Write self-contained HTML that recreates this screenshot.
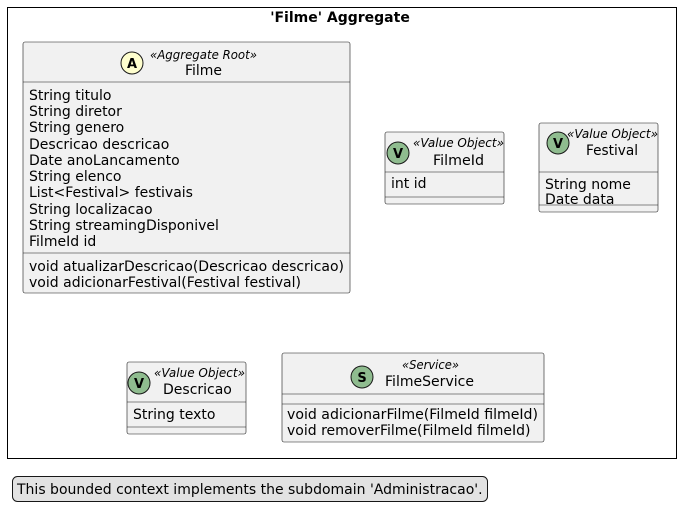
<!DOCTYPE html>
<html><head><meta charset="utf-8"><style>
html,body{margin:0;padding:0;background:#fff;}
svg{display:block;font-family:"DejaVu Sans","Liberation Sans",sans-serif;}
.t{font-size:14px;fill:#000;}
.s{font-size:12px;font-style:italic;fill:#000;}
.b{fill:#f1f1f1;stroke:#181818;stroke-width:0.6;}
.l{stroke:#181818;stroke-width:0.6;}
.c{font-size:13px;font-weight:bold;fill:#000;}
</style></head><body>
<svg width="680" height="520" viewBox="0 0 680 520">
<rect x="7.5" y="7.5" width="669" height="451" fill="none" stroke="#000" stroke-width="1"/>
<text x="340" y="22" text-anchor="middle" style="font-size:14px;font-weight:bold">'Filme' Aggregate</text>

<!-- Filme -->
<rect class="b" x="23" y="42" width="327" height="251" rx="2"/>
<circle cx="132" cy="63" r="11" fill="#fefece" stroke="#181818" stroke-width="1"/>
<text class="c" x="132" y="68" text-anchor="middle">A</text>
<text class="s" x="150" y="59" textLength="107" lengthAdjust="spacingAndGlyphs">«Aggregate Root»</text>
<text class="t" x="185" y="75" textLength="37" lengthAdjust="spacingAndGlyphs">Filme</text>
<line class="l" x1="23" y1="82" x2="350" y2="82"/>
<text x="29" y="100" class="t">String titulo</text>
<text x="29" y="116" class="t">String diretor</text>
<text x="29" y="132" class="t">String genero</text>
<text x="29" y="149" class="t">Descricao descricao</text>
<text x="29" y="165" class="t">Date anoLancamento</text>
<text x="29" y="181" class="t">String elenco</text>
<text x="29" y="197" class="t">List&lt;Festival&gt; festivais</text>
<text x="29" y="214" class="t">String localizacao</text>
<text x="29" y="230" class="t">String streamingDisponivel</text>
<text x="29" y="246" class="t">FilmeId id</text>
<line class="l" x1="23" y1="253" x2="350" y2="253"/>
<text x="29" y="271" class="t" textLength="315" lengthAdjust="spacingAndGlyphs">void atualizarDescricao(Descricao descricao)</text>
<text x="29" y="287" class="t" textLength="272" lengthAdjust="spacingAndGlyphs">void adicionarFestival(Festival festival)</text>

<!-- FilmeId -->
<rect class="b" x="385" y="132" width="119" height="72" rx="2"/>
<circle cx="398" cy="153" r="11" fill="#8fbc8f" stroke="#181818" stroke-width="1"/>
<text class="c" x="398" y="158" text-anchor="middle">V</text>
<text class="s" x="413" y="147" textLength="91" lengthAdjust="spacingAndGlyphs">«Value Object»</text>
<text class="t" x="433" y="165" textLength="51" lengthAdjust="spacingAndGlyphs">FilmeId</text>
<line class="l" x1="385" y1="172" x2="504" y2="172"/>
<text x="391" y="188" class="t">int id</text>
<line class="l" x1="385" y1="197" x2="504" y2="197"/>

<!-- Festival -->
<rect class="b" x="539" y="123" width="119" height="89" rx="2"/>
<circle cx="558" cy="143" r="11" fill="#8fbc8f" stroke="#181818" stroke-width="1"/>
<text class="c" x="558" y="148" text-anchor="middle">V</text>
<text class="s" x="567" y="138" textLength="91" lengthAdjust="spacingAndGlyphs">«Value Object»</text>
<text class="t" x="586" y="155" textLength="52" lengthAdjust="spacingAndGlyphs">Festival</text>
<line class="l" x1="539" y1="172" x2="658" y2="172"/>
<text x="545" y="189" class="t">String nome</text>
<text x="545" y="204" class="t">Date data</text>
<line class="l" x1="539" y1="205" x2="658" y2="205"/>

<!-- Descricao -->
<rect class="b" x="127" y="362" width="119" height="72" rx="2"/>
<circle cx="139" cy="383" r="11" fill="#8fbc8f" stroke="#181818" stroke-width="1"/>
<text class="c" x="139" y="388" text-anchor="middle">V</text>
<text class="s" x="154" y="377" textLength="91" lengthAdjust="spacingAndGlyphs">«Value Object»</text>
<text class="t" x="163" y="394">Descricao</text>
<line class="l" x1="127" y1="402" x2="246" y2="402"/>
<text x="133" y="419" class="t">String texto</text>
<line class="l" x1="127" y1="427" x2="246" y2="427"/>

<!-- FilmeService -->
<rect class="b" x="282" y="353" width="262" height="89" rx="2"/>
<circle cx="362" cy="377" r="11" fill="#8fbc8f" stroke="#181818" stroke-width="1"/>
<text class="c" x="362" y="382" text-anchor="middle">S</text>
<text class="s" x="402" y="369" textLength="57" lengthAdjust="spacingAndGlyphs">«Service»</text>
<text class="t" x="385" y="386" textLength="89" lengthAdjust="spacingAndGlyphs">FilmeService</text>
<line class="l" x1="282" y1="394" x2="544" y2="394"/>
<line class="l" x1="282" y1="404" x2="544" y2="404"/>
<text x="287" y="419" class="t" textLength="251" lengthAdjust="spacingAndGlyphs">void adicionarFilme(FilmeId filmeId)</text>
<text x="287" y="435" class="t">void removerFilme(FilmeId filmeId)</text>

<!-- Note -->
<rect x="12.5" y="476.5" width="475" height="25" rx="5" fill="#e2e2e2" stroke="#181818" stroke-width="1"/>
<text x="17" y="494" class="t">This bounded context implements the subdomain 'Administracao'.</text>
</svg>
</body></html>
